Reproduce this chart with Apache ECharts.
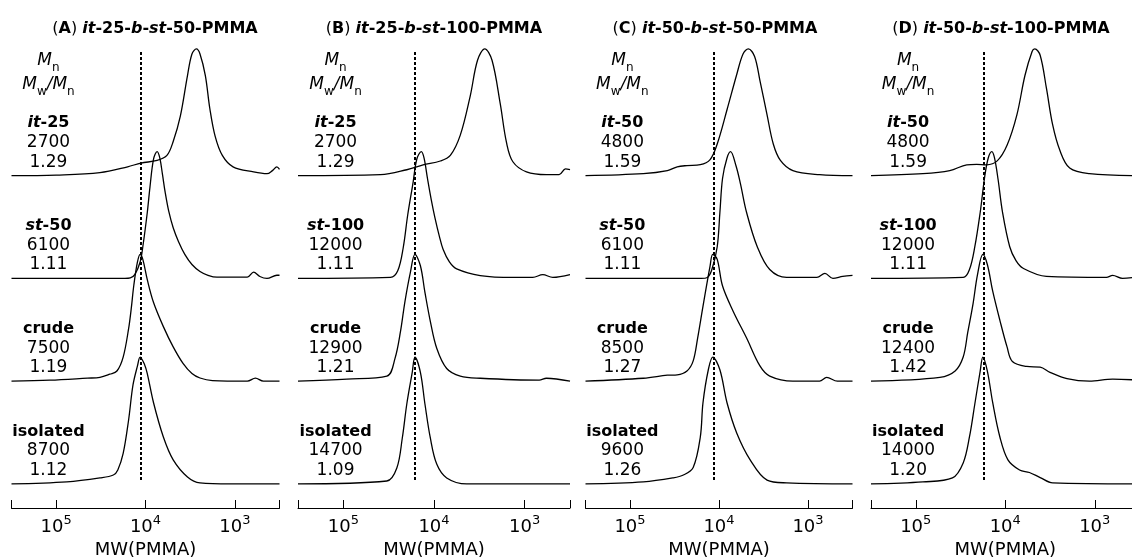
<!DOCTYPE html>
<html>
<head>
<meta charset="utf-8">
<title>GPC traces</title>
<script src="https://cdn.jsdelivr.net/npm/echarts@6/dist/echarts.min.js"></script>
<style>
    html, body { margin: 0; padding: 0; background: #fff; }
    #main { width: 1132px; height: 560px; }
</style>
</head>
<body>
<div id="main"></div>
<script>
// traces: [log10(MW), normalised RI intensity]
var A_it = [[5.5,0],[5.0,0.005],[4.51,0.024],[4.20,0.07],[4.05,0.10],[3.87,0.12],[3.76,0.16],[3.69,0.27],[3.61,0.47],[3.53,0.79],[3.48,0.96],[3.43,1.0],[3.39,0.96],[3.33,0.79],[3.28,0.53],[3.22,0.31],[3.14,0.16],[3.02,0.07],[2.79,0.03],[2.64,0.016],[2.58,0.04],[2.53,0.07],[2.5,0.05]];
var A_st = [[5.5,0],[4.23,0],[4.17,0.004],[4.12,0.03],[4.06,0.13],[4.03,0.25],[3.98,0.52],[3.95,0.72],[3.91,0.94],[3.87,1.0],[3.84,0.95],[3.81,0.82],[3.78,0.68],[3.74,0.53],[3.69,0.40],[3.63,0.29],[3.56,0.19],[3.48,0.11],[3.39,0.055],[3.30,0.025],[3.20,0.01],[2.86,0.01],[2.79,0.05],[2.72,0.015],[2.64,0],[2.53,0.025],[2.5,0.025]];
var A_crude = [[5.5,0],[5.07,0.008],[4.65,0.024],[4.51,0.03],[4.40,0.055],[4.32,0.08],[4.25,0.19],[4.19,0.41],[4.16,0.57],[4.13,0.76],[4.09,0.94],[4.06,1.0],[4.03,0.96],[3.98,0.80],[3.91,0.62],[3.80,0.43],[3.69,0.27],[3.58,0.14],[3.48,0.06],[3.39,0.025],[3.25,0.005],[2.86,0],[2.77,0.024],[2.68,0],[2.5,0]];
var A_iso = [[5.5,0],[4.88,0.016],[4.51,0.047],[4.36,0.07],[4.31,0.11],[4.25,0.24],[4.19,0.50],[4.14,0.78],[4.09,0.93],[4.06,1.0],[4.01,0.94],[3.98,0.87],[3.91,0.64],[3.80,0.37],[3.69,0.19],[3.53,0.055],[3.39,0.008],[3.05,0],[2.5,0]];

var B_it = [[5.5,0],[4.59,0.008],[4.30,0.047],[4.12,0.085],[3.93,0.116],[3.82,0.16],[3.71,0.32],[3.60,0.63],[3.52,0.91],[3.44,1.0],[3.36,0.91],[3.27,0.57],[3.20,0.26],[3.13,0.11],[2.98,0.03],[2.76,0.008],[2.62,0.008],[2.55,0.054],[2.5,0.047]];
var B_st = [[5.5,0],[4.48,0.008],[4.40,0.06],[4.34,0.24],[4.29,0.50],[4.23,0.76],[4.19,0.94],[4.14,1.0],[4.11,0.95],[4.07,0.78],[4.03,0.62],[3.99,0.48],[3.94,0.33],[3.90,0.23],[3.83,0.13],[3.75,0.075],[3.49,0.023],[3.13,0.008],[2.91,0.008],[2.80,0.03],[2.69,0.008],[2.5,0.03]];
var B_crude = [[5.5,0],[4.96,0.016],[4.52,0.04],[4.43,0.18],[4.37,0.39],[4.32,0.63],[4.26,0.86],[4.21,1.0],[4.15,0.91],[4.10,0.70],[4.04,0.47],[3.97,0.26],[3.86,0.10],[3.71,0.04],[3.49,0.023],[2.84,0.008],[2.76,0.023],[2.5,0]];
var B_iso = [[5.5,0],[4.52,0.023],[4.41,0.125],[4.35,0.36],[4.30,0.63],[4.24,0.88],[4.21,1.0],[4.15,0.88],[4.10,0.63],[4.04,0.36],[3.97,0.156],[3.86,0.047],[3.64,0],[2.5,0]];

var C_it = [[5.5,0],[4.85,0.016],[4.58,0.04],[4.47,0.07],[4.36,0.08],[4.21,0.087],[4.10,0.127],[4.02,0.25],[3.91,0.52],[3.80,0.80],[3.73,0.96],[3.67,1.0],[3.60,0.94],[3.54,0.75],[3.46,0.48],[3.39,0.25],[3.31,0.12],[3.17,0.04],[2.87,0.008],[2.5,0]];
var C_st = [[5.5,0],[4.20,0],[4.13,0.008],[4.08,0.07],[4.02,0.25],[3.99,0.52],[3.96,0.79],[3.91,0.95],[3.87,1.0],[3.81,0.89],[3.76,0.75],[3.69,0.52],[3.57,0.25],[3.43,0.07],[3.24,0.008],[2.90,0.008],[2.81,0.04],[2.72,0],[2.61,0.016],[2.5,0.024]];
var C_crude = [[5.5,0],[4.85,0.023],[4.58,0.047],[4.47,0.05],[4.36,0.08],[4.29,0.16],[4.24,0.34],[4.18,0.59],[4.10,0.91],[4.07,1.0],[4.02,0.96],[3.96,0.75],[3.84,0.55],[3.69,0.34],[3.54,0.12],[3.43,0.04],[3.17,0],[2.87,0],[2.79,0.03],[2.67,0],[2.5,0]];
var C_iso = [[5.5,0],[4.85,0.016],[4.52,0.047],[4.40,0.07],[4.29,0.13],[4.21,0.37],[4.18,0.64],[4.12,0.90],[4.07,1.0],[3.99,0.90],[3.91,0.64],[3.80,0.40],[3.65,0.19],[3.46,0.03],[3.24,0.008],[2.5,0]];

var D_it = [[5.5,0],[4.92,0.016],[4.62,0.04],[4.43,0.086],[4.32,0.09],[4.21,0.086],[4.09,0.117],[3.98,0.24],[3.87,0.48],[3.78,0.79],[3.70,0.98],[3.67,1.0],[3.61,0.95],[3.54,0.69],[3.47,0.40],[3.39,0.20],[3.28,0.06],[3.06,0.016],[2.5,0]];
var D_st = [[5.5,0],[4.47,0.008],[4.40,0.07],[4.34,0.25],[4.28,0.52],[4.23,0.80],[4.19,0.95],[4.15,1.0],[4.12,0.95],[4.08,0.78],[4.03,0.52],[3.95,0.25],[3.88,0.14],[3.80,0.08],[3.54,0.016],[2.87,0.008],[2.80,0.024],[2.69,0],[2.5,0.016]];
var D_crude = [[5.5,0],[4.73,0.03],[4.56,0.08],[4.47,0.19],[4.42,0.38],[4.36,0.61],[4.31,0.84],[4.25,1.0],[4.20,0.92],[4.14,0.71],[4.06,0.48],[3.98,0.27],[3.92,0.155],[3.76,0.116],[3.61,0.11],[3.50,0.07],[3.31,0.02],[3.06,0],[2.80,0.016],[2.5,0.008]];
var D_iso = [[5.5,0],[4.92,0.016],[4.59,0.047],[4.47,0.165],[4.40,0.37],[4.34,0.63],[4.28,0.89],[4.25,1.0],[4.20,0.89],[4.14,0.64],[4.06,0.37],[3.97,0.19],[3.84,0.11],[3.73,0.09],[3.61,0.05],[3.47,0.008],[2.5,0]];

// dashed reference line, log10(MW)
var refLine = [4.05, 4.21, 4.06, 4.24];

var panelLetters = ['A', 'B', 'C', 'D'];
var itLen = [25, 25, 50, 50];
var stLen = [50, 100, 50, 100];
var mnValues = [[2700, 6100, 7500, 8700], [2700, 12000, 12900, 14700], [4800, 6100, 8500, 9600], [4800, 12000, 12400, 14000]];
var pdiValues = [['1.29', '1.11', '1.19', '1.12'], ['1.29', '1.11', '1.21', '1.09'], ['1.59', '1.11', '1.27', '1.26'], ['1.59', '1.11', '1.42', '1.20']];
var tickLogs = [3, 4, 5];

var traces = [[A_it, A_st, A_crude, A_iso], [B_it, B_st, B_crude, B_iso], [C_it, C_st, C_crude, C_iso], [D_it, D_st, D_crude, D_iso]];

var FONT = 'DejaVu Sans';
var gridLeft = [11.5, 298, 585.5, 871];
var gridWidth = [268, 272, 267, 268.5];
var titleX = [155, 434, 715, 1001];
var offsets = [2.43, 1.62, 0.81, 0];
var LABEL_X = 5.086;

function txt(extra) {
    var o = {fontFamily: FONT, color: '#000', textBorderWidth: 0, textShadowBlur: 0};
    for (var key in extra) o[key] = extra[key];
    return o;
}

var rich = {
    b: txt({fontWeight: 'bold', fontSize: 16, lineHeight: 19.5}),
    bi: txt({fontWeight: 'bold', fontStyle: 'italic', fontSize: 16, lineHeight: 19.5}),
    n: txt({fontSize: 17, lineHeight: 19.5}),
    mi: txt({fontStyle: 'italic', fontSize: 17, lineHeight: 24, verticalAlign: 'middle'}),
    sub: txt({fontSize: 12, lineHeight: 12, verticalAlign: 'top', padding: [13, 0, 0, 0]})
};

var grids = [], xAxes = [], yAxes = [], series = [], graphics = [];

for (var p = 0; p < 4; p++) {
    grids.push({left: gridLeft[p], width: gridWidth[p], top: 40, bottom: 52, containLabel: false, outerBoundsMode: 'none'});
    xAxes.push({
        gridIndex: p, type: 'value', min: 2.5, max: 5.5, inverse: true,
        axisLine: {show: true, onZero: false, lineStyle: {color: '#000', width: 1}},
        axisTick: {show: true, inside: true, length: 8, customValues: [2.5, 3, 4, 5, 5.5], lineStyle: {color: '#000', width: 1}},
        axisLabel: {
            customValues: tickLogs, margin: 6,
            formatter: function (v) { return '{base|10}{sup|' + Math.round(v) + '}'; },
            rich: {
                base: txt({fontSize: 18, lineHeight: 22, verticalAlign: 'bottom'}),
                sup: txt({fontSize: 13, lineHeight: 14, verticalAlign: 'top'})
            }
        },
        splitLine: {show: false},
        name: 'MW(PMMA)', nameLocation: 'middle', nameGap: 33,
        nameTextStyle: txt({fontSize: 18})
    });
    yAxes.push({gridIndex: p, type: 'value', min: -0.19, max: 3.5, show: false});

    for (var k = 0; k < 4; k++) {
        var off = offsets[k];
        var s = {
            type: 'line', xAxisIndex: p, yAxisIndex: p, silent: true,
            symbol: 'none', smooth: 0.35,
            lineStyle: {color: '#000', width: 1.3},
            data: traces[p][k].map(function (d) { return [d[0], d[1] + off]; })
        };
        if (k === 3) {
            s.markLine = {
                silent: true, symbol: 'none', label: {show: false},
                lineStyle: {color: '#000', width: 2, type: [3, 2]},
                data: [[{coord: [refLine[p], 0.03]}, {coord: [refLine[p], 3.41]}]]
            };
        }
        series.push(s);
    }

    var names = ['{bi|it}{b|-' + itLen[p] + '}', '{bi|st}{b|-' + stLen[p] + '}', '{b|crude}', '{b|isolated}'];
    var labelData = [{value: [LABEL_X, 3.24], text: '{mi|M}{sub|n}\n{mi|M}{sub|w}{mi|/M}{sub|n}'}];
    for (var k2 = 0; k2 < 4; k2++) {
        labelData.push({
            value: [LABEL_X, offsets[k2] + 0.26],
            text: names[k2] + '\n{n|' + mnValues[p][k2] + '}\n{n|' + pdiValues[p][k2] + '}'
        });
    }
    series.push({
        type: 'scatter', xAxisIndex: p, yAxisIndex: p, silent: true,
        symbolSize: 0, itemStyle: {color: '#000', opacity: 1},
        label: {
            show: true, position: 'inside', align: 'center', opacity: 1,
            color: '#000', textBorderWidth: 0,
            formatter: function (prm) { return prm.data.text; },
            rich: rich
        },
        data: labelData
    });

    graphics.push({
        type: 'text', x: titleX[p], y: 29,
        style: {
            text: '{p|(}{t|' + panelLetters[p] + '}{p|) }{ti|it}{t|-' + itLen[p] + '-}{ti|b}{t|-}{ti|st}{t|-' + stLen[p] + '-PMMA}',
            align: 'center', verticalAlign: 'middle',
            rich: {
                p: txt({fontSize: 16}),
                t: txt({fontWeight: 'bold', fontSize: 16}),
                ti: txt({fontWeight: 'bold', fontStyle: 'italic', fontSize: 16})
            }
        }
    });
}

var chart = echarts.init(document.getElementById('main'));
chart.setOption({
    animation: false,
    backgroundColor: '#fff',
    grid: grids,
    xAxis: xAxes,
    yAxis: yAxes,
    graphic: graphics,
    series: series
});
</script>
</body>
</html>
